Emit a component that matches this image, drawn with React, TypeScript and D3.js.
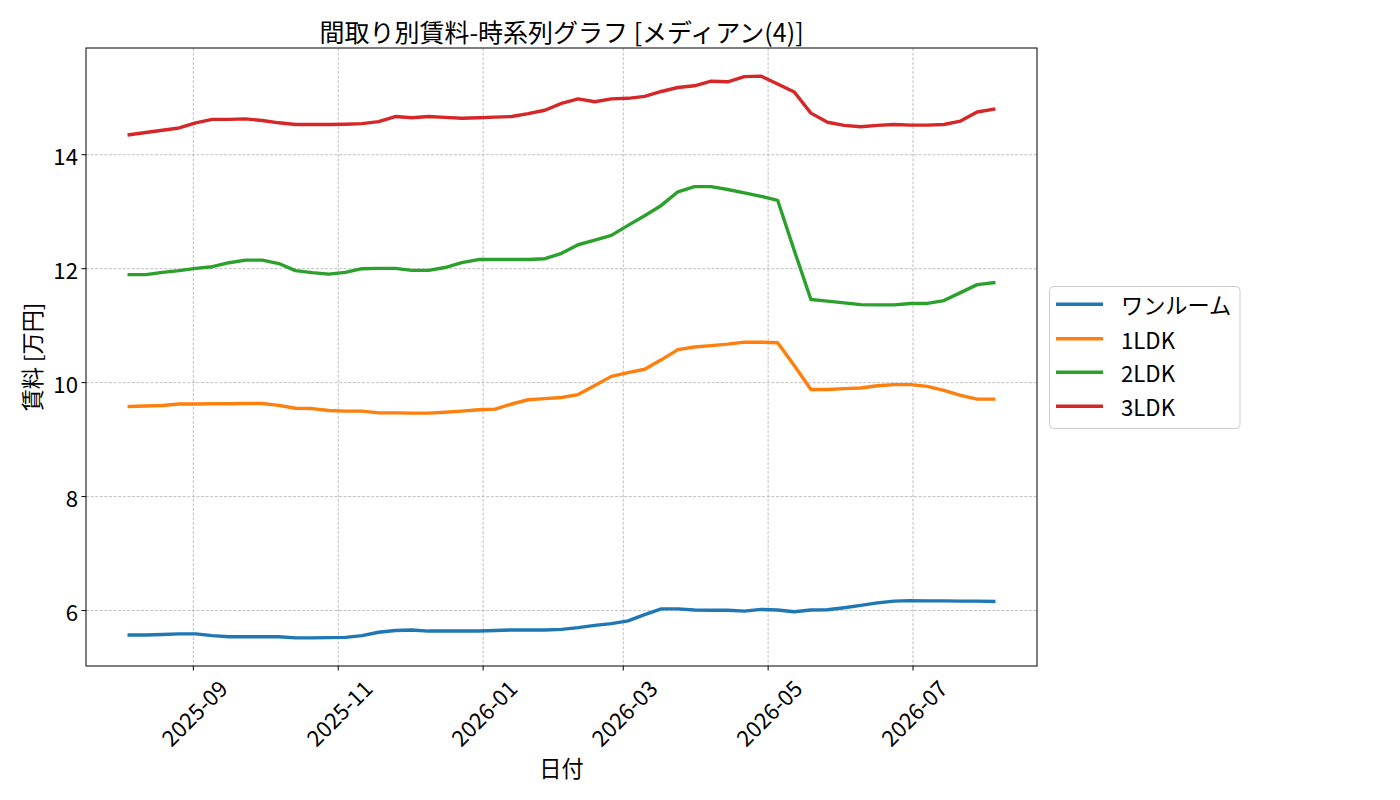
import React from "react";
import * as d3 from "d3";

const dates: string[] = [
  "2025-08-05","2025-08-12","2025-08-19","2025-08-26","2025-09-02","2025-09-09","2025-09-16","2025-09-23","2025-09-30",
  "2025-10-07","2025-10-14","2025-10-21","2025-10-28","2025-11-04","2025-11-11","2025-11-18","2025-11-25",
  "2025-12-02","2025-12-09","2025-12-16","2025-12-23","2025-12-30","2026-01-06","2026-01-13","2026-01-20","2026-01-27",
  "2026-02-03","2026-02-10","2026-02-17","2026-02-24","2026-03-03","2026-03-10","2026-03-17","2026-03-24","2026-03-31",
  "2026-04-07","2026-04-14","2026-04-21","2026-04-28","2026-05-05","2026-05-12","2026-05-19","2026-05-26",
  "2026-06-02","2026-06-09","2026-06-16","2026-06-23","2026-06-30","2026-07-07","2026-07-14","2026-07-21","2026-07-28",
  "2026-08-04",
];

const oneRoom: number[] = [
  5.57,5.57,5.58,5.59,5.59,5.56,5.54,5.54,5.54,5.54,5.52,5.52,5.525,5.53,5.56,5.62,5.65,5.66,5.64,5.64,5.64,5.64,5.65,
  5.66,5.66,5.66,5.67,5.70,5.74,5.77,5.82,5.93,6.03,6.03,6.01,6.005,6.005,5.99,6.02,6.01,5.98,6.01,6.015,6.05,6.09,
  6.135,6.165,6.175,6.17,6.17,6.165,6.165,6.16,
];
const ldk1: number[] = [
  9.58,9.59,9.60,9.625,9.625,9.63,9.63,9.635,9.635,9.60,9.55,9.545,9.51,9.50,9.50,9.47,9.47,9.465,9.465,9.48,9.50,
  9.525,9.535,9.625,9.70,9.72,9.74,9.79,9.95,10.11,10.175,10.235,10.40,10.58,10.625,10.65,10.675,10.71,10.71,10.70,
  10.30,9.88,9.88,9.895,9.905,9.945,9.965,9.965,9.935,9.865,9.775,9.71,9.71,
];
const ldk2: number[] = [
  11.895,11.895,11.935,11.965,12.005,12.035,12.105,12.15,12.15,12.09,11.965,11.93,11.905,11.935,12.0,12.005,12.005,
  11.97,11.97,12.02,12.105,12.16,12.16,12.16,12.16,12.175,12.27,12.42,12.50,12.585,12.76,12.93,13.11,13.35,13.44,13.44,
  13.39,13.33,13.27,13.20,12.32,11.46,11.43,11.40,11.37,11.365,11.365,11.39,11.39,11.44,11.58,11.72,11.755,
];
const ldk3: number[] = [
  14.35,14.39,14.43,14.47,14.56,14.62,14.62,14.63,14.60,14.56,14.53,14.53,14.53,14.535,14.545,14.58,14.67,14.65,14.67,
  14.655,14.64,14.65,14.66,14.67,14.72,14.78,14.90,14.98,14.93,14.98,14.99,15.025,15.11,15.18,15.21,15.29,15.28,15.37,
  15.38,15.24,15.10,14.73,14.57,14.515,14.49,14.515,14.53,14.52,14.52,14.53,14.59,14.75,14.80,
];

const seriesNames: string[] = ["ワンルーム", "1LDK", "2LDK", "3LDK"];
const seriesValues: number[][] = [oneRoom, ldk1, ldk2, ldk3];
const colors: string[] = ["#1f77b4", "#ff7f0e", "#2ca02c", "#d62728"];

const xTickLabels: string[] = ["2025-09", "2025-11", "2026-01", "2026-03", "2026-05", "2026-07"];
const yTicks: number[] = [6, 8, 10, 12, 14];

const title = "間取り別賃料-時系列グラフ [メディアン(4)]";
const xLabel = "日付";
const yLabel = "賃料 [万円]";

const W = 1400;
const H = 800;
const M = { left: 86, right: 1037, top: 48, bottom: 666 };
const FONT = "'Noto Sans CJK JP', 'Noto Sans', sans-serif";
const FS = 22.2;

const parse = (s: string) => new Date(s + "T00:00:00Z");

export default function App() {
  const xs = dates.map(parse);
  const [x0, x1] = d3.extent(xs) as [Date, Date];
  const xPad = (x1.getTime() - x0.getTime()) * 0.05;
  const x = d3
    .scaleUtc()
    .domain([new Date(x0.getTime() - xPad), new Date(x1.getTime() + xPad)])
    .range([M.left, M.right]);

  const all = seriesValues.flat();
  const yMin = d3.min(all) as number;
  const yMax = d3.max(all) as number;
  const yPad = (yMax - yMin) * 0.05;
  const y = d3.scaleLinear().domain([yMin - yPad, yMax + yPad]).range([M.bottom, M.top]);

  const line = d3
    .line<number>()
    .x((_, i) => x(xs[i]))
    .y((d) => y(d));

  const xTicks = xTickLabels.map((s) => parse(s + "-01"));

  const legX = 1049.5;
  const legY = 286.5;
  const legW = 190.5;
  const legH = 142;
  const rowY = [304.3, 338.7, 372.3, 406.3];

  return (
    <div style={{ position: "absolute", left: 0, top: 0 }}>
      <svg width={W} height={H} style={{ display: "block", background: "#fff" }} fontFamily={FONT}>
        <rect x={0} y={0} width={W} height={H} fill="#fff" />
        {/* grid */}
        <g stroke="#b0b0b0" strokeWidth={0.8} strokeDasharray="3,1.6">
          {xTicks.map((t, i) => (
            <line key={"gx" + i} x1={x(t)} x2={x(t)} y1={M.top} y2={M.bottom} />
          ))}
          {yTicks.map((t, i) => (
            <line key={"gy" + i} x1={M.left} x2={M.right} y1={y(t)} y2={y(t)} />
          ))}
        </g>
        {/* lines */}
        <g fill="none" strokeWidth={3.4} strokeLinejoin="round" strokeLinecap="square">
          {seriesValues.map((vals, i) => (
            <path key={"l" + i} d={line(vals) || ""} stroke={colors[i]} />
          ))}
        </g>
        {/* spines */}
        <rect
          x={M.left}
          y={M.top}
          width={M.right - M.left}
          height={M.bottom - M.top}
          fill="none"
          stroke="#000"
          strokeWidth={1}
        />
        {/* x ticks */}
        {xTicks.map((t, i) => {
          const px = x(t);
          return (
            <g key={"xt" + i}>
              <line x1={px} x2={px} y1={M.bottom} y2={M.bottom + 4.5} stroke="#000" strokeWidth={1} />
              <text
                transform={`translate(${px},${M.bottom + 46}) rotate(-45)`}
                textAnchor="middle"
                dominantBaseline="central"
                fontSize={FS}
                fill="#000"
              >
                {xTickLabels[i]}
              </text>
            </g>
          );
        })}
        {/* y ticks */}
        {yTicks.map((t, i) => {
          const py = y(t);
          return (
            <g key={"yt" + i}>
              <line x1={M.left - 4.5} x2={M.left} y1={py} y2={py} stroke="#000" strokeWidth={1} />
              <text x={M.left - 8} y={py} textAnchor="end" dominantBaseline="central" fontSize={FS} fill="#000">
                {t}
              </text>
            </g>
          );
        })}
        {/* labels */}
        <text x={(M.left + M.right) / 2} y={31} textAnchor="middle" dominantBaseline="central" fontSize={25} fill="#000">
          {title}
        </text>
        <text x={(M.left + M.right) / 2} y={767} textAnchor="middle" dominantBaseline="central" fontSize={FS} fill="#000">
          {xLabel}
        </text>
        <text
          transform={`translate(31,${(M.top + M.bottom) / 2}) rotate(-90)`}
          textAnchor="middle"
          dominantBaseline="central"
          fontSize={FS}
          fill="#000"
        >
          {yLabel}
        </text>
        {/* legend */}
        <rect x={legX} y={legY} width={legW} height={legH} rx={4} ry={4} fill="#fff" fillOpacity={0.8} stroke="#cccccc" strokeWidth={1} />
        {seriesNames.map((n, i) => (
          <g key={"lg" + i}>
            <line x1={1056} x2={1103} y1={rowY[i]} y2={rowY[i]} stroke={colors[i]} strokeWidth={3.4} />
            <text x={1121} y={rowY[i]} dominantBaseline="central" fontSize={FS} fill="#000">
              {n}
            </text>
          </g>
        ))}
      </svg>
    </div>
  );
}
